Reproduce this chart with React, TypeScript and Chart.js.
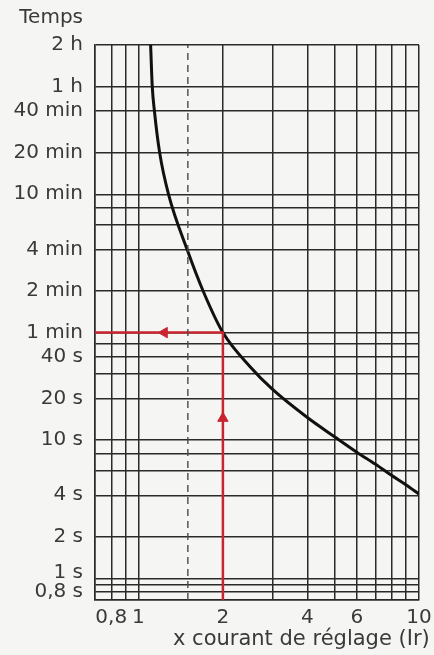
import React, { useEffect, useRef } from "react";
import { Chart, registerables } from "chart.js";

Chart.register(...registerables);

// ---- data ----
const curveCurrent = [1.105, 1.12, 1.14, 1.19, 1.28, 1.49, 1.7, 2.0, 2.5, 3.0, 4.0, 5.0, 6.0, 7.0, 8.0, 9.0, 10.0];
const curveTime = [7200, 3600, 2400, 1200, 600, 240, 120, 60, 34, 23.4, 14.6, 10.6, 8.2, 6.7, 5.55, 4.75, 4.08];

const readingCurrent = [0.7, 2, 2];
const readingTime = [60, 60, 0.7];

const arrowCurrent = [1.236, 2];
const arrowTime = [60, 14.4];
const arrowRotation = [270, 0];

const dashedCurrent = [1.5, 1.5];
const dashedTime = [0.7, 7200];

const xMin = 0.7;
const xMax = 10;
const yMin = 0.7;
const yMax = 7200;

const xTickValues = [0.7, 0.8, 0.9, 1, 2, 3, 4, 5, 6, 7, 8, 9, 10];
const xLabelValues = [0.8, 1, 2, 4, 6, 10];
const xLabelTexts = ["0,8", "1", "2", "4", "6", "10"];

const yTickValues = [0.7, 0.8, 0.9, 1, 2, 4, 6, 8, 10, 20, 30, 40, 50, 60, 120, 240, 360, 480, 600, 1200, 2400, 3600, 7200];
const yLabelValues = [0.8, 1, 2, 4, 10, 20, 40, 60, 120, 240, 600, 1200, 2400, 3600, 7200];
const yLabelTexts = ["0,8 s", "1 s", "2 s", "4 s", "10 s", "20 s", "40 s", "1 min", "2 min", "4 min", "10 min", "20 min", "40 min", "1 h", "2 h"];

const yAxisTitle = "Temps";
const xAxisTitle = "x courant de réglage (Ir)";

// ---- styles ----
const BG = "#f5f5f3";
const TEXT = "#3a3a3a";
const GRID = "#2a2a2a";
const RED = "#c9252f";
const FONT = '"DejaVu Sans", sans-serif';

function lookup(values: number[], texts: string[], v: number): string {
  for (let i = 0; i < values.length; i++) {
    if (Math.abs(values[i] - v) < 1e-6 * Math.max(1, v)) return texts[i];
  }
  return "";
}

const pts = (xs: number[], ys: number[]) => xs.map((x, i) => ({ x, y: ys[i] }));

export default function App() {
  const ref = useRef<HTMLCanvasElement | null>(null);

  useEffect(() => {
    if (!ref.current) return;
    const deco = {
      id: "deco",
      beforeDraw(chart: any) {
        const ctx = chart.ctx;
        ctx.save();
        ctx.fillStyle = BG;
        ctx.fillRect(0, 0, chart.width, chart.height);
        ctx.restore();
      },
      afterDraw(chart: any) {
        const ctx = chart.ctx;
        const area = chart.chartArea;
        const ys = chart.scales.y;
        ctx.save();
        ctx.fillStyle = TEXT;
        ctx.font = "20px " + FONT;
        ctx.textAlign = "right";
        ctx.textBaseline = "middle";
        ctx.fillText(yAxisTitle, ys.right - 12, area.top - 27);
        ctx.textAlign = "left";
        ctx.font = "21px " + FONT;
        ctx.fillText(xAxisTitle, 173, area.bottom + 40);
        ctx.restore();
      },
    };

    const chart = new Chart(ref.current, {
      type: "scatter",
      data: {
        datasets: [
          {
            label: "dashed",
            data: pts(dashedCurrent, dashedTime),
            showLine: true,
            borderColor: "#4a4a4a",
            borderWidth: 1.4,
            borderDash: [7, 5],
            pointRadius: 0,
          },
          {
            label: "reading",
            data: pts(readingCurrent, readingTime),
            showLine: true,
            borderColor: RED,
            borderWidth: 2.5,
            pointRadius: 0,
          },
          {
            label: "arrows",
            data: pts(arrowCurrent, arrowTime),
            showLine: false,
            pointStyle: "triangle",
            rotation: arrowRotation,
            pointRadius: 6,
            backgroundColor: RED,
            borderColor: RED,
            borderWidth: 1,
          },
          {
            label: "curve",
            data: pts(curveCurrent, curveTime),
            showLine: true,
            borderColor: "#111111",
            borderWidth: 3,
            pointRadius: 0,
            cubicInterpolationMode: "monotone",
          },
        ],
      },
      options: {
        animation: false,
        responsive: false,
        maintainAspectRatio: false,
        devicePixelRatio: 1,
        layout: { padding: { left: 0, right: 15, top: 45, bottom: 0 } },
        plugins: { legend: { display: false }, tooltip: { enabled: false } },
        scales: {
          x: {
            type: "logarithmic",
            min: xMin,
            max: xMax,
            afterBuildTicks: (scale: any) => {
              scale.ticks = xTickValues.map((v) => ({ value: v }));
            },
            afterFit: (scale: any) => {
              scale.height = 55;
              scale.paddingLeft = 0;
              scale.paddingRight = 0;
            },
            grid: { color: GRID, lineWidth: 1.5, drawTicks: false },
            border: { display: true, color: GRID, width: 1.5 },
            ticks: {
              autoSkip: false,
              maxRotation: 0,
              minRotation: 0,
              padding: 6,
              color: TEXT,
              font: { family: FONT, size: 20 },
              callback: (v: any) => lookup(xLabelValues, xLabelTexts, Number(v)),
            },
          },
          y: {
            type: "logarithmic",
            min: yMin,
            max: yMax,
            afterBuildTicks: (scale: any) => {
              scale.ticks = yTickValues.map((v) => ({ value: v }));
            },
            afterFit: (scale: any) => {
              scale.width = 95;
              scale.paddingTop = 0;
              scale.paddingBottom = 0;
            },
            grid: { color: GRID, lineWidth: 1.5, drawTicks: false },
            border: { display: true, color: GRID, width: 1.5 },
            ticks: {
              autoSkip: false,
              padding: 12,
              color: TEXT,
              font: (ctx: any) => {
                const v = ctx.tick ? ctx.tick.value : 0;
                if (Math.abs(v - 1) < 1e-9) return { family: FONT, size: 20, lineHeight: 0.6 };
                return { family: FONT, size: 20, lineHeight: 1.2 };
              },
              callback: (v: any) => {
                const n = Number(v);
                const t = lookup(yLabelValues, yLabelTexts, n);
                if (Math.abs(n - 1) < 1e-9) return [t, ""];
                return t;
              },
            },
          },
        },
      },
      plugins: [deco],
    } as any);

    return () => chart.destroy();
  }, []);

  return (
    <div style={{ position: "fixed", left: 0, top: 0, width: 434, height: 655, background: BG }}>
      <canvas ref={ref} width={434} height={655} style={{ display: "block", width: 434, height: 655 }} />
    </div>
  );
}
